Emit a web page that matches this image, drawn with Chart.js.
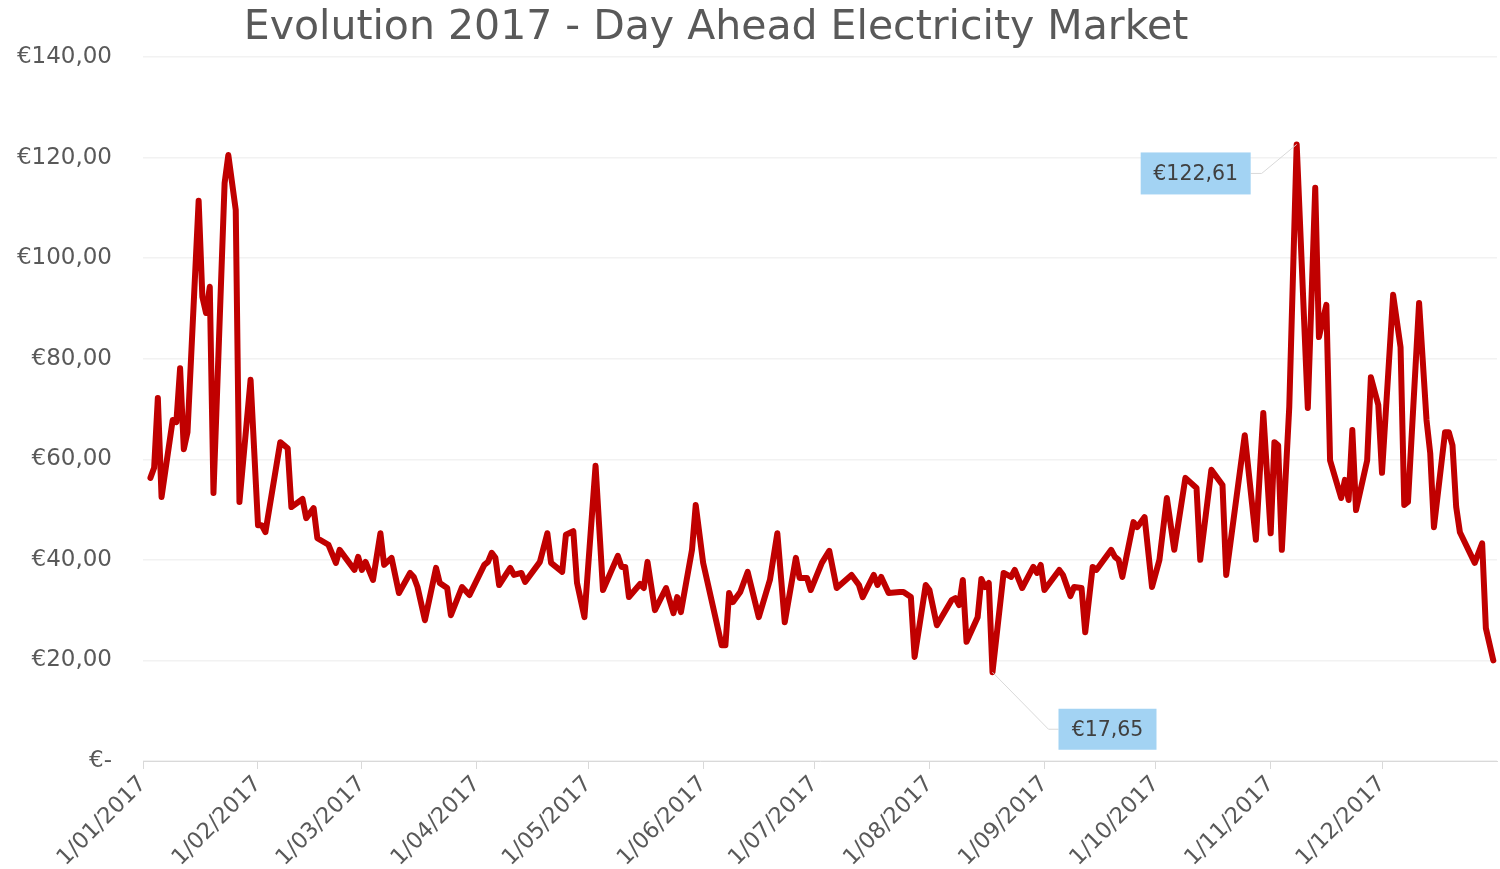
<!DOCTYPE html>
<html>
<head>
<meta charset="utf-8">
<script src="https://cdn.jsdelivr.net/npm/chart.js@4.4.0/dist/chart.umd.min.js"></script>
<style>
  body { margin: 0; background: #fff; }
  canvas { display: block; }
</style>
</head>
<body>
<canvas id="chart" width="1500" height="869"></canvas>
<script>
// day of year (0 = 1 Jan 2017) where the price curve turns
const days = [2, 3, 4, 5, 8, 9, 10, 11, 12, 15, 16, 17, 18, 19, 22, 23, 25, 26, 29,
  31, 32, 33, 37, 39, 40, 43, 44, 46, 47, 50, 52, 53, 55, 57,
  58, 59, 60, 62, 64, 65, 67, 69, 72, 73, 74, 76, 79, 80, 82, 83, 86, 88,
  92, 93, 94, 95, 96, 99, 100, 102, 103, 107, 109, 110, 113, 114, 116, 117, 119,
  122, 124, 128, 129, 130, 131, 134, 135, 136, 138, 141, 143, 144, 145, 148, 149,
  151, 156, 157, 158, 159, 161, 163, 166, 169, 171, 173, 176, 177, 179, 180,
  183, 185, 187, 191, 193, 194, 197, 198, 199, 201, 204, 205, 207, 208, 211,
  212, 214, 218, 219, 220, 221, 222, 225, 226, 227, 228, 229, 232, 234, 235, 237, 240, 241, 242,
  243, 247, 248, 250, 251, 253, 254, 256, 257, 261, 262, 263, 264, 267, 268, 270, 272,
  274, 276, 278, 281, 284, 285, 288, 291, 292, 297, 300, 302,
  304, 305, 306, 307, 309, 311, 314, 316, 317, 319, 320, 323, 324, 325, 326, 327, 330, 331, 333,
  334, 337, 339, 340, 341, 344, 346, 347, 348, 351, 352, 353, 354, 355, 359, 361, 362, 364];

// price in EUR/MWh
const prices = [56.3, 58.3, 72.2, 52.5, 67.8, 67.4, 78.1, 62, 65.4, 111.4, 92.3, 89.1, 94.3, 53.3, 114.9, 120.5, 109.6, 51.5, 75.8,
  46.9, 46.9, 45.5, 63.4, 62.2, 50.5, 52.1, 48.3, 50.3, 44.3, 43, 39.4, 42, 40, 38,
  40.6, 38, 39.6, 36, 45.3, 39, 40.4, 33.4, 37.4, 36.6, 34.6, 28, 38.4, 35.4, 34.4, 29, 34.6, 33,
  39, 39.6, 41.4, 40.4, 35, 38.4, 37, 37.4, 35.6, 39.6, 45.3, 39.4, 37.6, 45, 45.7, 35.4, 28.6,
  58.7, 34, 40.8, 38.6, 38.6, 32.6, 35.2, 34.4, 39.6, 30, 34.4, 29.4, 32.6, 29.6, 42, 50.9,
  39.4, 23, 23, 33.4, 31.6, 33.6, 37.6, 28.6, 36, 45.3, 27.6, 40.4, 36.4, 36.4, 34,
  39.4, 41.8, 34.4, 37, 35, 32.6, 37, 35, 36.6, 33.4, 33.6, 33.6, 32.6, 20.7, 35,
  34, 27, 32, 32.4, 31, 36, 23.7, 28.6, 36.2, 34.6, 35.4, 17.65, 37.4, 36.6, 38, 34.4, 38.6, 37.4, 39,
  34, 38, 37, 32.8, 34.6, 34.4, 25.6, 38.6, 38, 42, 40.6, 40, 36.6, 47.5, 46.5, 48.5, 34.6,
  40, 52.3, 42, 56.3, 54.3, 40, 57.9, 54.9, 37, 64.8, 44, 69.2,
  45.3, 63.4, 62.8, 42, 70.4, 122.61, 70.2, 114, 84.3, 90.7, 59.8, 52.3, 55.9, 51.9, 65.8, 49.9, 59.8, 76.3, 70.8,
  57.3, 92.7, 82.3, 50.9, 51.5, 91.1, 67.8, 61.2, 46.5, 65.4, 65.4, 62.8, 50.5, 45.5, 39.4, 43.3, 26.4, 20];

// first day of each month, used as x ticks
const monthStarts = [0, 31, 59, 90, 120, 151, 181, 212, 243, 273, 304, 334];
const monthLabels = ['1/01/2017', '1/02/2017', '1/03/2017', '1/04/2017', '1/05/2017', '1/06/2017',
  '1/07/2017', '1/08/2017', '1/09/2017', '1/10/2017', '1/11/2017', '1/12/2017'];

const chartTitle = 'Evolution 2017 - Day Ahead Electricity Market';

const points = days.map((d, i) => ({ x: d, y: prices[i] }));

function euro(v) {
  return '€' + v.toFixed(2).replace('.', ',');
}

// title sits a bit left of centre in the original, so draw it ourselves
const titlePlugin = {
  id: 'sheetTitle',
  afterDraw(chart) {
    const ctx = chart.ctx;
    ctx.save();
    ctx.fillStyle = '#595959';
    ctx.font = '41px "DejaVu Sans"';
    ctx.textAlign = 'center';
    ctx.textBaseline = 'middle';
    ctx.fillText(chartTitle, 716, 28);
    ctx.restore();
  }
};

// callouts for the max and min of the year
const calloutPlugin = {
  id: 'callouts',
  afterDatasetsDraw(chart) {
    const ctx = chart.ctx;
    const xs = chart.scales.x, ys = chart.scales.y;
    const maxI = prices.indexOf(Math.max(...prices));
    const minI = prices.indexOf(Math.min(...prices));
    const items = [
      { i: maxI, dx: -101, dy: 29, w: 110, h: 42, side: 'right' },
      { i: minI, dx: 115, dy: 57, w: 98, h: 41, side: 'left' }
    ];
    ctx.save();
    items.forEach(it => {
      const px = xs.getPixelForValue(days[it.i]);
      const py = ys.getPixelForValue(prices[it.i]);
      const cx = px + it.dx, cy = py + it.dy;
      const bx = cx - it.w / 2, by = cy - it.h / 2;
      // leader line
      ctx.strokeStyle = '#d9d9d9';
      ctx.lineWidth = 1;
      ctx.beginPath();
      ctx.moveTo(px, py);
      if (it.side === 'right') {
        ctx.lineTo(bx + it.w + 11, cy);
        ctx.lineTo(bx + it.w, cy);
      } else {
        ctx.lineTo(bx - 10, cy);
        ctx.lineTo(bx, cy);
      }
      ctx.stroke();
      ctx.fillStyle = '#a3d3f3';
      ctx.fillRect(bx, by, it.w, it.h);
      ctx.fillStyle = '#404040';
      ctx.font = '20.5px "DejaVu Sans"';
      ctx.textAlign = 'center';
      ctx.textBaseline = 'middle';
      ctx.fillText(euro(prices[it.i]), cx, cy + 1);
    });
    ctx.restore();
  }
};

new Chart(document.getElementById('chart'), {
  type: 'line',
  data: {
    datasets: [{
      data: points,
      borderColor: '#c00000',
      borderWidth: 6,
      pointRadius: 0,
      tension: 0,
      borderJoinStyle: 'round',
      borderCapStyle: 'round'
    }]
  },
  options: {
    responsive: false,
    devicePixelRatio: 1,
    animation: false,
    layout: { padding: { top: 57, right: 3 } },
    plugins: {
      legend: { display: false },
      tooltip: { enabled: false },
      title: { display: false }
    },
    scales: {
      x: {
        type: 'linear',
        min: 0,
        max: 365,
        afterBuildTicks: s => { s.ticks = monthStarts.map(v => ({ value: v })); },
        afterFit: s => { s.height = 108; },
        ticks: {
          autoSkip: false,
          minRotation: 45,
          maxRotation: 45,
          padding: 2,
          color: '#595959',
          font: { family: 'DejaVu Sans', size: 22.5 },
          callback: v => monthLabels[monthStarts.indexOf(v)]
        },
        grid: { drawOnChartArea: false, drawTicks: true, tickLength: 8, tickColor: '#d9d9d9' },
        border: { color: '#d9d9d9', width: 1 }
      },
      y: {
        min: 0,
        max: 140,
        afterFit: s => { s.width = 143; },
        ticks: {
          stepSize: 20,
          padding: 31,
          color: '#595959',
          font: { family: 'DejaVu Sans', size: 23 },
          callback: v => v === 0 ? '€-' : euro(v)
        },
        grid: { color: '#f2f2f2', lineWidth: 1.5, drawTicks: false },
        border: { display: false }
      }
    }
  },
  plugins: [calloutPlugin, titlePlugin]
});
</script>
</body>
</html>
